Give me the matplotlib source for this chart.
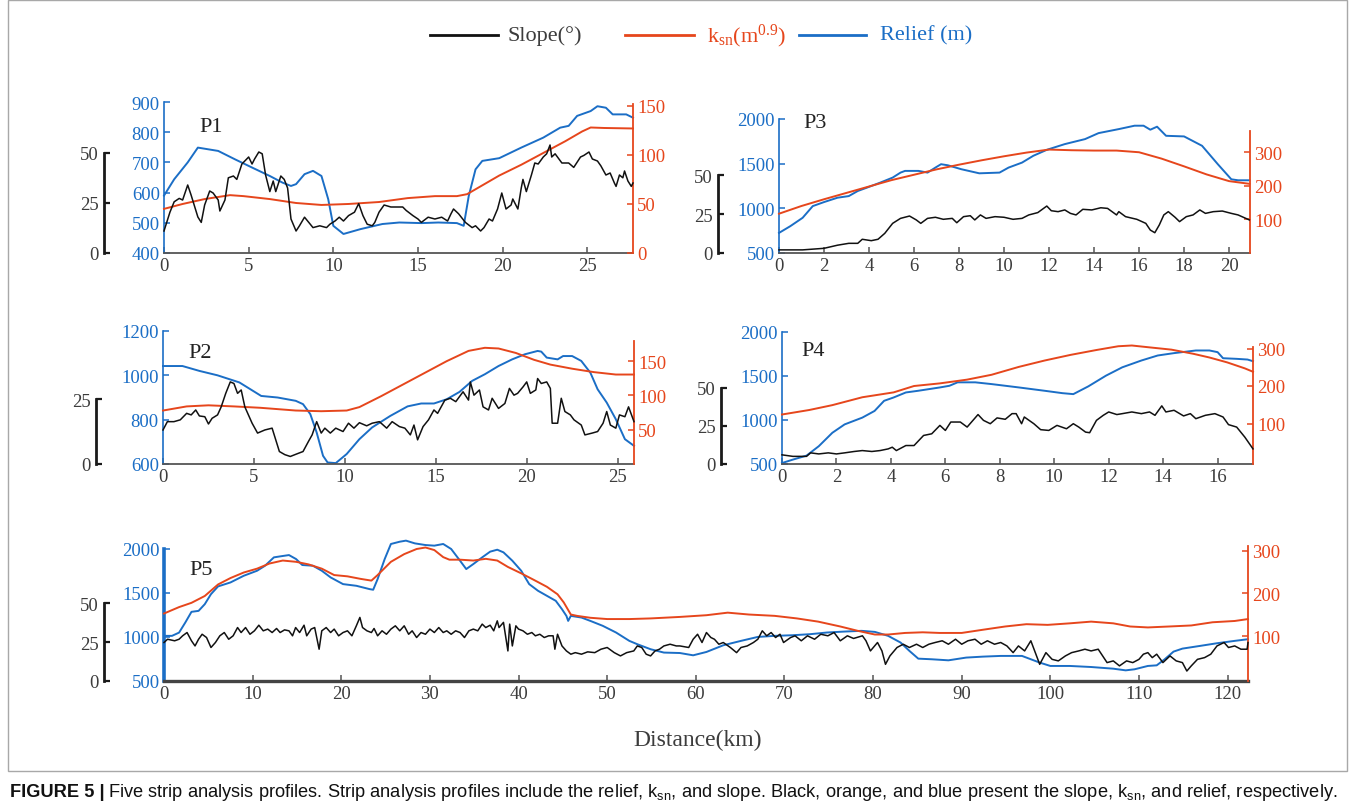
import numpy as np
import matplotlib
matplotlib.use("Agg")
import matplotlib.pyplot as plt
from matplotlib.lines import Line2D
from matplotlib.patches import Rectangle

# ---------------------------------------------------------------- data
# each series: (distance km, value)
p1_relief = [(0, 590), (0.6, 644), (1.4, 700), (2.0, 749), (3.2, 738), (4.2, 710), (5.2, 683),
             (6.25, 655), (7.0, 633), (7.5, 622), (7.8, 628), (8.3, 661), (8.8, 672), (9.3, 655),
             (9.7, 578), (10.0, 490), (10.6, 463), (11.6, 479), (12.9, 496), (13.9, 501), (15.2, 499),
             (16.2, 501), (17.3, 499), (17.7, 490), (18.0, 589), (18.4, 677), (18.8, 705), (19.8, 714),
             (21.1, 749), (22.4, 782), (23.4, 815), (23.9, 821), (24.4, 854), (25.2, 870), (25.6, 886),
             (26.1, 881), (26.5, 859), (27.3, 859), (27.7, 848)]
p1_ksn = [(0, 45), (1.1, 50), (2.4, 55), (3.9, 59), (4.7, 58), (6.25, 55), (7.8, 51), (9.3, 49),
          (10.9, 50), (12.7, 52), (14.4, 56), (16.0, 58), (17.3, 58), (17.9, 60), (18.5, 66),
          (19.8, 79), (21.1, 90), (22.4, 102), (23.7, 114), (24.7, 124), (25.2, 128), (26.0, 127.5),
          (27.7, 127)]
p1_slope = [(0, 11), (0.35, 20.4), (0.6, 25.6), (0.9, 27.3), (1.1, 26.5), (1.4, 34), (1.6, 29),
            (2.0, 18), (2.2, 15.3), (2.4, 24), (2.7, 31), (2.9, 30), (3.2, 26.5), (3.3, 21),
            (3.6, 26.5), (3.8, 37.6), (4.1, 38.5), (4.3, 36.8), (4.6, 44.5), (5.0, 48), (5.2, 44.5),
            (5.35, 47), (5.6, 50.5), (5.8, 49.6), (6.0, 39), (6.25, 30.7), (6.45, 36), (6.6, 30.7),
            (6.9, 38.5), (7.1, 36.8), (7.3, 32.5), (7.5, 17), (7.8, 11), (8.0, 13.6), (8.3, 17.9),
            (8.55, 15.3), (8.8, 12.7), (9.2, 13.6), (9.6, 12.7), (9.8, 14.4), (10.1, 16), (10.35, 17.9),
            (10.6, 16), (10.9, 18.7), (11.25, 20.4), (11.5, 24.7), (11.75, 18.7), (12.0, 14.4),
            (12.3, 13.6), (12.45, 15.3), (12.7, 20.4), (13.0, 24), (13.4, 23), (13.8, 23), (14.1, 23),
            (14.3, 21.3), (14.7, 18.7), (15.0, 17), (15.2, 15.3), (15.6, 17.9), (16.0, 17), (16.4, 17.9),
            (16.75, 16), (16.95, 19.6), (17.1, 22), (17.4, 19.6), (17.8, 15.3), (18.2, 12.7),
            (18.4, 13.6), (18.7, 11), (18.9, 12.7), (19.2, 17), (19.4, 16), (19.7, 22), (19.95, 30),
            (20.2, 22), (20.5, 24), (20.6, 27), (20.9, 22), (21.1, 32.5), (21.2, 36.8), (21.4, 30.7),
            (21.7, 39), (21.9, 45), (22.1, 44.5), (22.4, 48), (22.6, 49.6), (22.8, 54), (22.9, 48),
            (23.1, 49.6), (23.5, 45), (23.9, 45), (24.2, 42.8), (24.6, 48), (24.8, 48.8), (25.1, 50.5),
            (25.3, 47), (25.6, 46), (25.8, 43.6), (26.1, 39), (26.35, 40), (26.6, 35), (26.7, 33.3),
            (26.9, 39), (27.1, 37.6), (27.2, 41), (27.4, 36), (27.6, 33.3), (27.7, 35)]

p2_relief = [(0, 1042), (1.07, 1042), (2.0, 1020), (3.0, 1000), (4.2, 968), (5.4, 907), (6.3, 900),
             (7.3, 885), (7.7, 870), (8.1, 825), (8.45, 742), (8.8, 637), (9.05, 607), (9.5, 604),
             (10.1, 645), (10.8, 712), (11.5, 765), (12.5, 817), (13.45, 860), (14.2, 873), (14.9, 873),
             (15.6, 892), (16.3, 925), (17.0, 975), (17.7, 1005), (18.45, 1042), (19.2, 1072),
             (19.9, 1095), (20.6, 1110), (20.8, 1107), (21.1, 1080), (21.7, 1072), (22.0, 1087),
             (22.5, 1087), (23.0, 1065), (23.5, 1012), (23.9, 937), (24.4, 877), (24.9, 802),
             (25.4, 712), (25.9, 682)]
p2_ksn = [(0, 78), (1.3, 84), (2.5, 85.6), (3.9, 84), (5.35, 82), (7.3, 78), (8.7, 77), (10.1, 78),
          (10.8, 83), (12.0, 99), (13.2, 116), (14.4, 133), (15.6, 150), (16.8, 165), (17.7, 169.5),
          (18.45, 168.5), (19.4, 162), (20.4, 152), (21.3, 145), (22.5, 139), (23.7, 134),
          (24.9, 130.5), (25.9, 130.5)]
p2_slope = [(0, 13.1), (0.24, 16.3), (0.6, 16.3), (0.95, 17), (1.3, 19.5), (1.55, 18.9), (1.8, 20.8),
            (2.0, 18.5), (2.3, 18.2), (2.5, 15.4), (2.7, 17.6), (3.0, 18.9), (3.2, 22), (3.45, 27.2),
            (3.7, 31.6), (3.9, 31), (4.1, 27.2), (4.3, 28.5), (4.5, 22), (4.9, 15.7), (5.2, 11.9),
            (5.6, 13.1), (6.0, 13.8), (6.2, 9.3), (6.4, 4.8), (6.7, 3.6), (7.0, 2.9), (7.4, 4),
            (7.7, 4.8), (8.0, 8.7), (8.2, 11.2), (8.45, 16.3), (8.7, 11.9), (8.9, 13.8), (9.2, 11.9),
            (9.5, 13.8), (9.9, 12.5), (10.2, 15.7), (10.5, 13.8), (10.8, 15.9), (11.2, 14.7),
            (11.5, 15.7), (11.9, 16.3), (12.3, 13.8), (12.6, 16.3), (13.0, 14.4), (13.3, 13.8),
            (13.6, 11.2), (13.8, 15), (14.0, 9.3), (14.3, 14.4), (14.6, 17), (14.9, 20.8), (15.1, 19.5),
            (15.5, 24.6), (15.8, 25.3), (16.1, 24), (16.3, 25.9), (16.5, 27.8), (16.8, 24.6),
            (16.9, 31.6), (17.1, 26.5), (17.4, 28.5), (17.6, 22), (17.9, 20.8), (18.1, 25.3),
            (18.45, 21.4), (18.8, 23.3), (19.05, 29.1), (19.3, 26.5), (19.5, 27.2), (19.8, 29.7),
            (20.0, 31.6), (20.2, 27.2), (20.5, 28.5), (20.6, 32.9), (20.8, 31), (21.1, 31.6),
            (21.3, 29.1), (21.4, 15.7), (21.7, 15.7), (21.9, 25.3), (22.1, 20.2), (22.4, 18.9),
            (22.6, 17), (23.0, 15), (23.2, 11.2), (23.6, 11.9), (23.9, 12.5), (24.2, 15.7),
            (24.4, 20.2), (24.6, 15), (24.9, 13.8), (25.1, 18.9), (25.4, 18.2), (25.6, 22), (25.9, 16.3)]

p3_relief = [(0, 725), (0.5, 800), (1.05, 894), (1.5, 1025), (2.0, 1070), (2.6, 1119), (3.1, 1137),
             (3.5, 1194), (3.9, 1231), (4.5, 1288), (5.05, 1344), (5.4, 1400), (5.6, 1419), (6.2, 1419),
             (6.6, 1400), (6.95, 1456), (7.2, 1494), (7.5, 1482), (8.1, 1438), (8.9, 1392), (9.8, 1400),
             (10.2, 1456), (10.8, 1512), (11.3, 1588), (11.9, 1655), (12.7, 1719), (13.6, 1775),
             (14.2, 1842), (15.1, 1887), (15.8, 1925), (16.2, 1925), (16.5, 1880), (16.8, 1914),
             (17.2, 1812), (18.0, 1805), (18.8, 1700), (19.5, 1494), (20.1, 1325), (20.4, 1314),
             (20.9, 1314)]
p3_ksn = [(0, 117), (1, 140), (2, 160), (3, 179), (4, 198), (5, 217), (6, 233), (7, 249), (8, 263),
          (9, 276), (10, 288), (11, 299), (12, 308), (13, 306), (14, 305), (15, 305), (16, 300),
          (17, 281), (18, 258), (19, 234), (20, 214), (20.9, 206)]
p3_slope = [(0, 2), (1.05, 2), (2.0, 3), (2.6, 5), (3.1, 6.2), (3.5, 6.2), (3.7, 8.8), (4.1, 7.9),
            (4.4, 8.8), (4.7, 12.6), (5.05, 19), (5.4, 22.2), (5.8, 23.7), (6.1, 21.2), (6.3, 19),
            (6.6, 22.2), (6.95, 22.9), (7.3, 21.6), (7.7, 22.2), (7.9, 19.4), (8.2, 23.3), (8.5, 23.9),
            (8.7, 21.2), (8.95, 24.4), (9.2, 22.2), (9.6, 23.3), (10.0, 22.9), (10.4, 21.6),
            (10.8, 22.2), (11.1, 24.4), (11.5, 25.9), (11.9, 30.1), (12.1, 27.1), (12.4, 26.5),
            (12.7, 27.6), (12.95, 25.4), (13.2, 24.4), (13.5, 28), (13.9, 27.6), (14.3, 29),
            (14.6, 28.6), (14.8, 26.5), (15.0, 24.4), (15.1, 26.5), (15.4, 23.3), (15.9, 21.6),
            (16.3, 19), (16.5, 14.7), (16.7, 13), (16.9, 18), (17.1, 24.4), (17.3, 26.5), (17.6, 22.9),
            (17.8, 20.1), (18.1, 23.3), (18.4, 24.4), (18.7, 27.6), (18.95, 25.4), (19.3, 26.5),
            (19.7, 26.9), (20.1, 25.4), (20.4, 24.4), (20.9, 21.2)]

p4_relief = [(0, 511), (0.4, 550), (0.9, 595), (1.35, 702), (1.85, 855), (2.3, 950), (2.95, 1027),
             (3.4, 1103), (3.75, 1218), (4.1, 1256), (4.55, 1313), (5.0, 1332), (5.8, 1370),
             (6.15, 1389), (6.45, 1428), (7.1, 1428), (7.7, 1408), (8.7, 1370), (9.65, 1332),
             (10.3, 1305), (10.7, 1294), (11.25, 1382), (11.9, 1504), (12.5, 1599), (13.2, 1676),
             (13.8, 1733), (14.4, 1760), (15.2, 1790), (15.7, 1790), (16.0, 1771), (16.2, 1702),
             (16.7, 1695), (17.1, 1687), (17.3, 1668)]
p4_ksn = [(0, 124), (1.0, 136), (1.85, 149), (2.95, 170), (4.1, 183), (4.85, 200), (5.8, 207),
          (6.8, 217), (7.7, 230), (8.7, 251), (9.65, 268), (10.6, 283), (11.55, 296), (12.35, 306),
          (12.85, 308), (13.5, 303), (14.3, 297), (15.1, 286), (15.7, 276), (16.35, 263), (17.0, 247),
          (17.3, 238)]
p4_slope = [(0, 6), (0.4, 5), (0.9, 5), (1.05, 7.3), (1.35, 6.6), (1.7, 7.3), (2.0, 6.6), (2.3, 7.3),
            (2.65, 8.2), (2.95, 8.8), (3.3, 8.2), (3.6, 8.8), (3.9, 9.9), (4.05, 11), (4.2, 8.8),
            (4.55, 12.1), (4.85, 12.1), (5.2, 18.7), (5.5, 19.8), (5.8, 25.3), (6.0, 22), (6.2, 27.5),
            (6.55, 27.5), (6.8, 24.2), (7.2, 32.4), (7.4, 28.6), (7.65, 26.4), (7.9, 30.2), (8.2, 29.3),
            (8.45, 33), (8.6, 33), (8.8, 26.4), (8.9, 30.8), (9.25, 26.4), (9.5, 22.5), (9.8, 22),
            (10.1, 25.3), (10.45, 23.1), (10.7, 26.4), (10.9, 24.2), (11.15, 20.9), (11.3, 20.5),
            (11.55, 28.6), (11.8, 31.9), (12.0, 34.1), (12.3, 32.4), (12.5, 33), (12.85, 34.1),
            (13.2, 33), (13.5, 34.1), (13.7, 31.9), (13.95, 38.1), (14.1, 34.1), (14.4, 35.2),
            (14.75, 31.5), (15.0, 33), (15.2, 29.7), (15.55, 31.9), (15.9, 33), (16.2, 30.8),
            (16.4, 25.8), (16.7, 24.2), (17.0, 17.6), (17.3, 9.9)]

p5_relief = [(0, 1013), (0.9, 1013), (1.7, 1050), (2.4, 1164), (3.1, 1286), (3.9, 1297), (4.6, 1373),
             (5.3, 1487), (6.1, 1575), (7.5, 1620), (9.0, 1696), (10.5, 1753), (11.4, 1810),
             (12.4, 1905), (13.1, 1916), (14.1, 1931), (14.9, 1886), (15.6, 1818), (16.8, 1810),
             (17.8, 1753), (18.8, 1677), (20.2, 1601), (21.7, 1582), (23.2, 1544), (23.6, 1537),
             (24.1, 1658), (24.9, 1886), (25.6, 2057), (26.6, 2083), (27.3, 2095), (28.3, 2064),
             (29.5, 2045), (30.5, 2038), (31.5, 2057), (32.4, 2000), (33.4, 1867), (34.1, 1772),
             (34.9, 1829), (35.9, 1905), (36.8, 1970), (37.6, 1992), (38.3, 1962), (39.3, 1867),
             (40.3, 1753), (41.2, 1601), (42.2, 1525), (43.2, 1468), (44.2, 1411), (44.9, 1316),
             (45.4, 1240), (45.6, 1183), (45.9, 1240), (47.1, 1221), (48.1, 1183), (49.5, 1127),
             (51.0, 1051), (52.5, 956), (53.4, 918), (54.9, 861), (56.4, 823), (58.2, 818),
             (59.7, 792), (61.2, 830), (63.1, 906), (65.1, 956), (67.0, 1001), (68.9, 1013),
             (70.9, 1020), (72.9, 1032), (74.8, 1051), (76.8, 1062), (78.7, 1070), (80.2, 1058),
             (81.7, 1013), (83.1, 937), (84.1, 842), (85.1, 754), (86.6, 747), (88.5, 735), (90.5, 766),
             (92.4, 777), (94.4, 785), (96.8, 785), (97.8, 747), (98.8, 709), (100.0, 671),
             (102.2, 671), (104.6, 659), (107.1, 640), (108.5, 621), (109.5, 633), (111.0, 671),
             (112.0, 678), (112.9, 747), (113.9, 834), (114.9, 868), (116.9, 899), (118.8, 929),
             (120.8, 956), (122.3, 975)]
p5_ksn = [(0, 153), (1.7, 168), (3.1, 178), (4.6, 194), (6.1, 221), (7.5, 236), (9.0, 249),
          (10.5, 258), (11.9, 270), (13.4, 277), (14.9, 274), (16.3, 268), (17.8, 258), (19.2, 243),
          (20.7, 240), (22.2, 234), (23.4, 230), (24.1, 243), (25.6, 274), (27.1, 292), (28.5, 304),
          (29.5, 307.5), (30.5, 301.5), (31.5, 285), (32.2, 279), (33.4, 279), (34.9, 277),
          (36.3, 281), (37.6, 277), (38.8, 262), (40.3, 247), (41.7, 232), (43.2, 215.5), (44.4, 198),
          (45.1, 179), (45.9, 150.6), (46.6, 147.5), (48.1, 143), (50.0, 140), (52.5, 140),
          (54.9, 141.5), (58.2, 145), (61.2, 149), (63.6, 155), (66.0, 150.6), (68.9, 147.5),
          (71.4, 141.5), (73.8, 134), (76.3, 122.6), (78.2, 112.8), (80.2, 103.8), (81.7, 103.8),
          (83.6, 107.5), (85.6, 109), (87.5, 107.5), (90.0, 107.5), (92.4, 115), (94.9, 122.6),
          (97.3, 128), (99.7, 126.4), (102.2, 130), (104.6, 134), (107.1, 130), (109.0, 122.6),
          (111.0, 120.4), (113.4, 122.6), (115.9, 125), (118.3, 132.5), (120.8, 135.5), (122.3, 140)]
p5_slope = [(0, 24.7), (0.4, 26.8), (1.2, 25.8), (1.7, 26.8), (2.1, 29), (2.6, 31.1), (3.1, 25.8),
            (3.5, 22.5), (3.9, 26.8), (4.3, 30), (4.8, 27.9), (5.3, 21.5), (5.8, 24.7), (6.3, 29),
            (6.8, 31.1), (7.3, 26.8), (7.8, 29), (8.3, 34.3), (8.7, 31.1), (9.2, 34.3), (9.7, 30),
            (10.2, 32.2), (10.7, 35.8), (11.2, 32.2), (11.7, 33.3), (12.2, 31.1), (12.7, 33.7),
            (13.1, 31.1), (13.6, 32.8), (14.1, 32.2), (14.5, 29), (14.85, 34.3), (15.3, 31.1),
            (15.8, 35.8), (16.1, 29), (16.6, 33.3), (17.0, 34.3), (17.5, 20.4), (17.8, 32.2),
            (18.3, 34.3), (18.8, 31.1), (19.2, 33.3), (19.7, 29), (20.2, 31.1), (20.7, 32.2), (21.2, 29),
            (21.7, 35.4), (22.1, 40.8), (22.4, 34.3), (22.9, 32.2), (23.4, 31.1), (23.7, 33.7),
            (24.1, 29), (24.6, 32.2), (25.1, 30), (25.6, 33.3), (26.1, 35.4), (26.6, 32.2),
            (27.1, 35.4), (27.6, 30), (28.0, 32.2), (28.5, 27.9), (29.0, 31.1), (29.5, 30), (30.0, 33.3),
            (30.5, 31.1), (31.0, 34.3), (31.5, 31.1), (31.9, 32.2), (32.4, 30), (32.9, 32.2),
            (33.4, 31.1), (33.9, 27.9), (34.4, 32.2), (34.9, 33.3), (35.4, 32.2), (35.9, 36.5),
            (36.3, 34.3), (36.8, 35.8), (37.2, 32.2), (37.6, 38.6), (37.8, 34.3), (38.3, 37.6),
            (38.8, 19.3), (39.0, 36.5), (39.3, 22.5), (39.7, 35.4), (40.0, 33.3), (40.5, 32.2),
            (41.0, 30), (41.5, 31.1), (41.9, 29), (42.4, 30), (42.9, 27.9), (43.4, 29), (43.9, 29),
            (44.1, 20.4), (44.4, 30), (44.9, 22.5), (45.4, 19.3), (45.9, 17.2), (46.4, 18.2),
            (47.1, 17.2), (47.8, 18.7), (48.6, 18.2), (49.3, 20.4), (50.0, 21.5), (50.8, 18.2),
            (51.5, 16.1), (52.2, 18.2), (53.0, 19.3), (53.4, 22.5), (53.9, 21.5), (54.4, 17.2),
            (54.9, 16.1), (55.4, 19.3), (55.9, 20.4), (56.4, 22.5), (57.1, 23.6), (57.8, 22.5),
            (58.2, 22.5), (59.2, 21.5), (59.7, 26.8), (60.2, 30), (60.7, 24.7), (61.2, 31.1),
            (61.7, 27.9), (62.1, 26.8), (62.6, 23.6), (63.1, 24.7), (63.9, 21.5), (64.6, 18.2),
            (65.1, 21.5), (65.8, 22.5), (66.5, 24.7), (67.0, 26.8), (67.5, 32.2), (68.0, 29),
            (68.5, 31.1), (69.0, 27.9), (69.5, 30), (69.9, 24.7), (70.7, 27.9), (71.2, 29),
            (71.9, 25.8), (72.6, 29), (73.4, 26.8), (74.1, 30), (74.9, 29), (75.6, 31.1), (76.3, 25.8),
            (77.1, 29), (77.8, 27.3), (78.8, 29), (79.2, 25.8), (79.7, 19.3), (80.5, 24.7),
            (81.0, 19.3), (81.4, 10.7), (81.9, 16.1), (82.7, 21.5), (83.4, 23.6), (84.1, 21.5),
            (84.9, 23.6), (85.6, 21.5), (86.3, 23.6), (87.0, 24.7), (87.8, 25.8), (88.5, 23.6),
            (89.3, 26.8), (90.0, 23.6), (90.7, 25.8), (91.5, 26.8), (92.2, 23.6), (92.9, 25.8),
            (93.7, 23.6), (94.4, 24.7), (95.1, 22.5), (95.8, 18.2), (96.4, 22.5), (97.1, 19.3),
            (97.8, 25.8), (98.3, 18.2), (98.8, 10.7), (99.5, 18.2), (100.2, 13.9), (100.9, 12.9),
            (101.7, 16.1), (102.4, 18.2), (103.2, 19.3), (103.9, 20.4), (104.6, 19.3), (105.4, 20.4),
            (105.9, 16.1), (106.4, 11.8), (107.1, 12.9), (107.8, 9.7), (108.6, 12.9), (109.3, 11.8),
            (110.0, 13.9), (110.5, 17.2), (111.0, 18.2), (111.5, 15), (112.0, 17.2), (112.7, 11.8),
            (113.5, 16.1), (114.2, 12.9), (114.9, 11.8), (115.4, 6.4), (115.9, 9.7), (116.6, 13.9),
            (117.4, 15), (118.1, 17.2), (118.8, 22.5), (119.6, 24.7), (120.1, 21.5), (120.8, 22.5),
            (121.5, 20.4), (122.2, 20.4), (122.3, 24.7)]

legend_labels = ["Slope(°)", r"k$\mathregular{_{sn}}$(m$\mathregular{^{0.9}}$)", "Relief (m)"]
x_label = "Distance(km)"
caption_head = "FIGURE 5 |"
caption_body = ("Five strip analysis profiles. Strip analysis profiles include the relief, "
                r"k$\mathregular{_{sn}}$, and slope. Black, orange, and blue present the slope, "
                r"k$\mathregular{_{sn}}$, and relief, respectively.")

# ---------------------------------------------------------------- style
W, H = 1355, 812
BLUE = "#1b6ec6"
ORANGE = "#e6461c"
BLACK = "#111111"
GREY = "#3c3c3c"
SERIF = ["Liberation Serif", "DejaVu Serif"]
plt.rcParams["font.family"] = SERIF
TICK_FS = 13.5

fig = plt.figure(figsize=(W / 100, H / 100), dpi=100)
fig.patch.set_facecolor("white")


def fig_rect(x0, y0, x1, y1):
    return [x0 / W, 1 - y1 / H, (x1 - x0) / W, (y1 - y0) / H]


def xy(series):
    arr = np.asarray(series, dtype=float)
    return arr[:, 0], arr[:, 1]


def panel(name, box, xlim, xticks, rel_lim, rel_ticks, ksn_lim, ksn_ticks, ksn_top,
          slope_lim, slope_ticks, bar_x, name_xy, relief, ksn, slope, heavy=False):
    x0, y0, x1, y1 = box
    ax = fig.add_axes(fig_rect(*box))
    ax.patch.set_alpha(0)
    ax_k = ax.twinx()
    ax_s = ax.twinx()

    # relief (left, blue)
    ax.plot(*xy(relief), color=BLUE, lw=1.4, solid_joinstyle="round", clip_on=False)
    ax.set_xlim(*xlim)
    ax.set_ylim(*rel_lim)
    ax.set_xticks(xticks)
    ax.set_yticks(rel_ticks)
    for s in ("top", "right"):
        ax.spines[s].set_visible(False)
    ax.spines["left"].set_color(BLUE)
    ax.spines["left"].set_linewidth(2.6 if heavy else 1.2)
    ax.spines["bottom"].set_color("#555555" if not heavy else "#444444")
    ax.spines["bottom"].set_linewidth(2.4 if heavy else 1.3)
    ax.tick_params(axis="y", direction="in", length=4, width=1.1, colors=BLUE,
                   labelsize=TICK_FS, pad=3)
    ax.tick_params(axis="x", direction="in", length=4, width=1.1, color="#555555",
                   labelcolor=GREY, labelsize=TICK_FS, pad=3)

    # ksn (right, orange)
    ax_k.plot(*xy(ksn), color=ORANGE, lw=1.4, solid_joinstyle="round", clip_on=False)
    ax_k.set_ylim(*ksn_lim)
    ax_k.set_yticks(ksn_ticks)
    for s in ("top", "left", "bottom"):
        ax_k.spines[s].set_visible(False)
    ax_k.spines["right"].set_color(ORANGE)
    ax_k.spines["right"].set_linewidth(1.3)
    ax_k.spines["right"].set_bounds(ksn_lim[0], ksn_top)
    ax_k.tick_params(axis="y", direction="in", length=4, width=1.1, colors=ORANGE,
                     labelsize=TICK_FS, pad=3)

    # slope (detached black scale bar on the left)
    ax_s.plot(*xy(slope), color=BLACK, lw=1.1, solid_joinstyle="round", clip_on=False)
    ax_s.set_ylim(*slope_lim)
    ax_s.set_yticks(slope_ticks)
    ax_s.yaxis.tick_left()
    for s in ("top", "right", "bottom"):
        ax_s.spines[s].set_visible(False)
    ax_s.spines["left"].set_position(("axes", (bar_x - x0) / (x1 - x0)))
    ax_s.spines["left"].set_bounds(0, slope_ticks[-1])
    ax_s.spines["left"].set_linewidth(2.0)
    ax_s.spines["left"].set_color("#1a1a1a")
    ax_s.tick_params(axis="y", direction="in", length=4, width=1.6, color="#1a1a1a",
                     labelcolor=GREY, labelsize=TICK_FS, pad=4)

    fig.text(name_xy[0] / W, 1 - name_xy[1] / H, name, fontsize=16, color="#222222",
             ha="left", va="center")


panel("P1", (164, 103, 633, 254), (0, 27.7), np.arange(0, 26, 5),
      (400, 900), np.arange(400, 901, 100), (0, 154), [0, 50, 100, 150], 152,
      (0, 75.5), [0, 25, 50], 104, (199, 128), p1_relief, p1_ksn, p1_slope)
panel("P2", (163, 332, 634, 465), (0, 25.9), np.arange(0, 26, 5),
      (600, 1200), np.arange(600, 1201, 200), (0, 194), [50, 100, 150], 180,
      (0, 51.2), [0, 25], 96, (188, 354), p2_relief, p2_ksn, p2_slope)
panel("P3", (779, 120, 1250, 254), (0, 20.93), np.arange(0, 21, 2),
      (500, 2000), np.arange(500, 2001, 500), (0, 399), [100, 200, 300], 362,
      (0, 85.9), [0, 25, 50], 718, (803, 124), p3_relief, p3_ksn, p3_slope)
panel("P4", (782, 333, 1253, 465), (0, 17.3), np.arange(0, 17, 2),
      (500, 2000), np.arange(500, 2001, 500), (-8, 344), [100, 200, 300], 305,
      (0, 86.5), [0, 25, 50], 721, (801, 352), p4_relief, p4_ksn, p4_slope)
panel("P5", (164, 550, 1248, 682), (0, 122.3), np.arange(0, 121, 10),
      (500, 2000), np.arange(500, 2001, 500), (-5, 304), [100, 200, 300], 310,
      (0, 84.7), [0, 25, 50], 104, (189, 571), p5_relief, p5_ksn, p5_slope, heavy=True)

# shared legend along the top
legend_items = [(BLACK, 430, 498, 508), (ORANGE, 625, 694, 707), (BLUE, 799, 866, 880)]
for (col, lx0, lx1, tx), label in zip(legend_items, legend_labels):
    fig.add_artist(Line2D([lx0 / W, lx1 / W], [1 - 36 / H, 1 - 36 / H],
                          transform=fig.transFigure, color=col, lw=2.0))
    fig.text(tx / W, 1 - 36 / H, label, fontsize=16,
             color=(GREY if col == BLACK else col), ha="left", va="center")

fig.text(698 / W, 1 - 740 / H, x_label, fontsize=17, color=GREY, ha="center", va="center")

# frame around the chart area
fig.add_artist(Rectangle((8 / W, 1 - 772 / H), (1347 - 8) / W, (772 - 1) / H,
                         transform=fig.transFigure, fill=False, edgecolor="#a8a8a8", lw=1.0))

# caption, sized to run the full width
renderer = fig.canvas.get_renderer()
cap_fs = 12.0
cap_y = 1 - 793 / H
head = fig.text(10 / W, cap_y, caption_head, fontsize=cap_fs, fontweight="bold",
                family=["Liberation Sans", "DejaVu Sans"], color="#111111", va="center")
body = fig.text(0, cap_y, caption_body, fontsize=cap_fs,
                family=["Liberation Sans", "DejaVu Sans"], color="#111111", va="center")
for _ in range(3):
    hb = head.get_window_extent(renderer)
    body.set_x((hb.x1 + 3) / W)
    bb = body.get_window_extent(renderer)
    scale = (1343 - 10) / (bb.x1 - hb.x0)
    cap_fs *= scale
    head.set_fontsize(cap_fs)
    body.set_fontsize(cap_fs)
hb = head.get_window_extent(renderer)
body.set_x((hb.x1 + 3) / W)

fig.savefig("out.png", dpi=100)
